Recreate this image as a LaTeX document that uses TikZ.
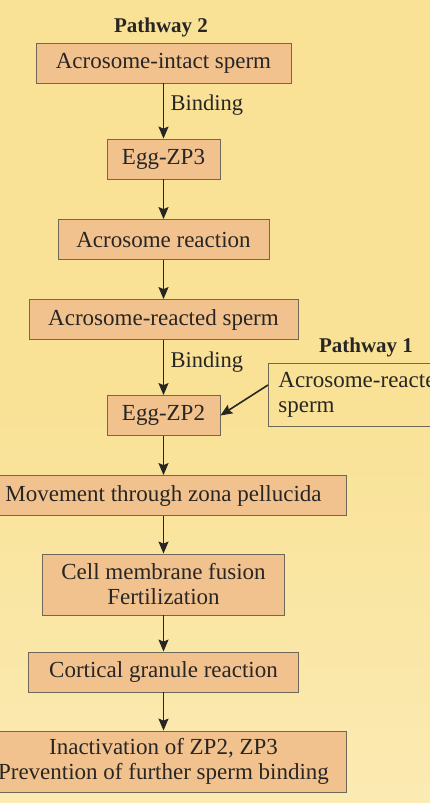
\documentclass[tikz,border=0pt]{standalone}
\usepackage{fontspec}
\setmainfont{Liberation Serif}
\usetikzlibrary{arrows.meta,positioning}
\definecolor{paper}{RGB}{249,226,150}
\definecolor{paperlight}{RGB}{251,234,178}
\definecolor{boxfill}{RGB}{242,194,142}
\definecolor{boxline}{RGB}{110,104,88}
\definecolor{ink}{RGB}{40,38,36}

\begin{document}
\begin{tikzpicture}[x=1pt, y=-1pt,
  stepbox/.style={draw=boxline, fill=boxfill, line width=0.8pt, minimum height=40pt,
    inner sep=0pt, text=ink, align=center, font=\fontsize{23}{25}\selectfont},
  flow/.style={-{Stealth[length=12pt,width=10pt,inset=2pt]}, line width=1.6pt, ink},
  tag/.style={text=ink, font=\fontsize{22.5}{25}\selectfont},
  head/.style={text=ink, font=\bfseries\fontsize{21}{24}\selectfont}]
% background and frame
\useasboundingbox (0,0) rectangle (430,803);
\shade[top color=paper, bottom color=paperlight, middle color=paper] (0,0) rectangle (430,803);
\clip (0,0) rectangle (430,803);

% pathway 2
\node[head] (pw2) at (161,27) {Pathway 2};
\node[stepbox, minimum width=255pt] (intact) at (163.5,63) {Acrosome-intact sperm};
\node[stepbox, minimum width=113pt] (zp3) at (163.5,159) {Egg-ZP3};
\node[stepbox, minimum width=211pt] (reaction) at (163.5,239.5) {Acrosome reaction};
\node[stepbox, minimum width=269pt] (reacted) at (163.5,319.5) {Acrosome-reacted sperm};
\node[stepbox, minimum width=113pt] (zp2) at (163.5,415.5) {Egg-ZP2};

% pathway 1
\node[head] (pw1) at (366,347) {Pathway 1};
\node[stepbox, fill=none, anchor=west, minimum height=63pt, inner xsep=10pt,
  text width=180pt, align=left] (other) at (268,394.5) {Acrosome-reacted\\sperm};

% common steps
\node[stepbox, minimum width=365pt] (zona) at (163.5,495.5) {Movement through zona pellucida};
\node[stepbox, minimum width=242pt, minimum height=61pt] (fusion) at (163.5,584.5) {Cell membrane fusion\\Fertilization};
\node[stepbox, minimum width=270pt] (cortical) at (163.5,672) {Cortical granule reaction};
\node[stepbox, minimum width=365pt, minimum height=61pt] (block) at (163.5,761.5) {Inactivation of ZP2, ZP3\\Prevention of further sperm binding};

\draw[flow] (intact) -- node[tag, right, pos=0.4, xshift=3pt] {Binding} (zp3);
\draw[flow] (zp3) -- (reaction);
\draw[flow] (reaction) -- (reacted);
\draw[flow] (reacted) -- node[tag, right, pos=0.4, xshift=3pt] {Binding} (zp2);
\draw[flow] ([yshift=9.5pt]other.west) -- (zp2.east);
\draw[flow] (zp2) -- (zona);
\draw[flow] (zona) -- (fusion);
\draw[flow] (fusion) -- (cortical);
\draw[flow] (cortical) -- (block);
\end{tikzpicture}
\end{document}
